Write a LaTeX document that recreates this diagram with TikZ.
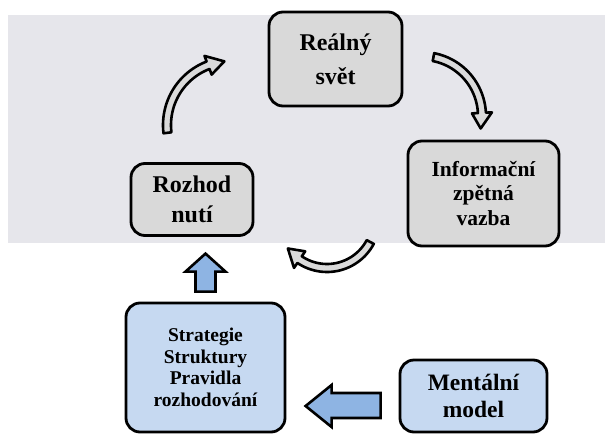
\documentclass[tikz,border=0pt]{standalone}
\usepackage{fontspec}
\setmainfont{Liberation Serif}
\usetikzlibrary{calc}

\definecolor{band}{HTML}{E6E6EB}
\definecolor{boxgray}{HTML}{D9D9D9}
\definecolor{boxblue}{HTML}{C6D9F1}
\definecolor{arrowblue}{HTML}{8EB4E3}
\definecolor{arcgray}{HTML}{DADADA}

\tikzset{
  cyclebox/.style={draw=black, line width=2.8pt, rounded corners=14pt, fill=boxgray,
    align=center, inner sep=0pt, text=black},
  bluebox/.style={cyclebox, fill=boxblue},
  blockarrow/.style={draw=black, line width=2.6pt, fill=arrowblue, line join=miter},
  bentarrow/.style={draw=black, line width=2.6pt, fill=arcgray, line join=round},
}

% curved block arrow: centre x, centre y, radius, tail angle,
% head-base angle, tip angle, half shaft width, half head width
\newcommand\bentblock[8]{%
  \draw[bentarrow]
    plot[domain=#4:#5, samples=30] ({#1+(#3+#7)*cos(\x)},{#2+(#3+#7)*sin(\x)})
    -- ({#1+(#3+#8)*cos(#5)},{#2+(#3+#8)*sin(#5)})
    -- ({#1+#3*cos(#6)},{#2+#3*sin(#6)})
    -- ({#1+(#3-#8)*cos(#5)},{#2+(#3-#8)*sin(#5)})
    -- plot[domain=#5:#4, samples=30] ({#1+(#3-#7)*cos(\x)},{#2+(#3-#7)*sin(\x)})
    -- cycle;}

\begin{document}
\begin{tikzpicture}[x={(1pt,0)}, y={(0,-1pt)}]
  \useasboundingbox (0,0) rectangle (605,434);
  \fill[white] (0,0) rectangle (605,434);
  % shaded band behind the feedback loop
  \fill[band] (8,15) rectangle (605,243);

  % loop boxes
  \node[cyclebox, minimum width=133pt, minimum height=94pt,
        font={\fontsize{24}{34}\selectfont\bfseries}] (real) at (335.5,59) {Reálný\\svět};
  \node[cyclebox, minimum width=151pt, minimum height=105pt,
        font={\fontsize{21.5}{24.5}\selectfont\bfseries}] (info) at (483.5,193.5) {Informační\\zpětná\\vazba};
  \node[cyclebox, minimum width=122pt, minimum height=72pt,
        font={\fontsize{24}{30}\selectfont\bfseries}] (dec) at (192,199.5) {Rozhod\\nutí};

  % lower boxes
  \node[bluebox, minimum width=159pt, minimum height=129pt,
        font={\fontsize{19.5}{21.5}\selectfont\bfseries}] (strat) at (205.5,367.5) {Strategie\\Struktury\\Pravidla\\rozhodování};
  \node[bluebox, minimum width=147pt, minimum height=72pt,
        font={\fontsize{23.5}{27}\selectfont\bfseries}] (ment) at (473.5,396) {Mentální\\model};

  % curved arrows of the loop
  \bentblock{231}{125}{64}{173}{249}{264}{4}{10}
  \bentblock{422}{116}{60}{281}{357}{372}{4}{10}
  \bentblock{327}{219}{49}{28}{124}{143}{4}{10}

  % block arrow from the rules box up to the decision box
  \draw[blockarrow]
    ($(strat.north)+(-10,-10)$) -- ($(strat.north)+(-10,-30)$)
    -- ($(strat.north)+(-20,-30)$) -- ($(strat.north)+(0,-48)$)
    -- ($(strat.north)+(20,-30)$) -- ($(strat.north)+(10,-30)$)
    -- ($(strat.north)+(10,-10)$) -- cycle;

  % block arrow from the mental model to the rules box
  \draw[blockarrow]
    ($(ment.west)+(-18,-3)$) -- ($(ment.west)+(-67,-3)$)
    -- ($(ment.west)+(-67,-11)$) -- ($(ment.west)+(-93,10)$)
    -- ($(ment.west)+(-67,31)$) -- ($(ment.west)+(-67,22)$)
    -- ($(ment.west)+(-18,22)$) -- cycle;
\end{tikzpicture}
\end{document}
